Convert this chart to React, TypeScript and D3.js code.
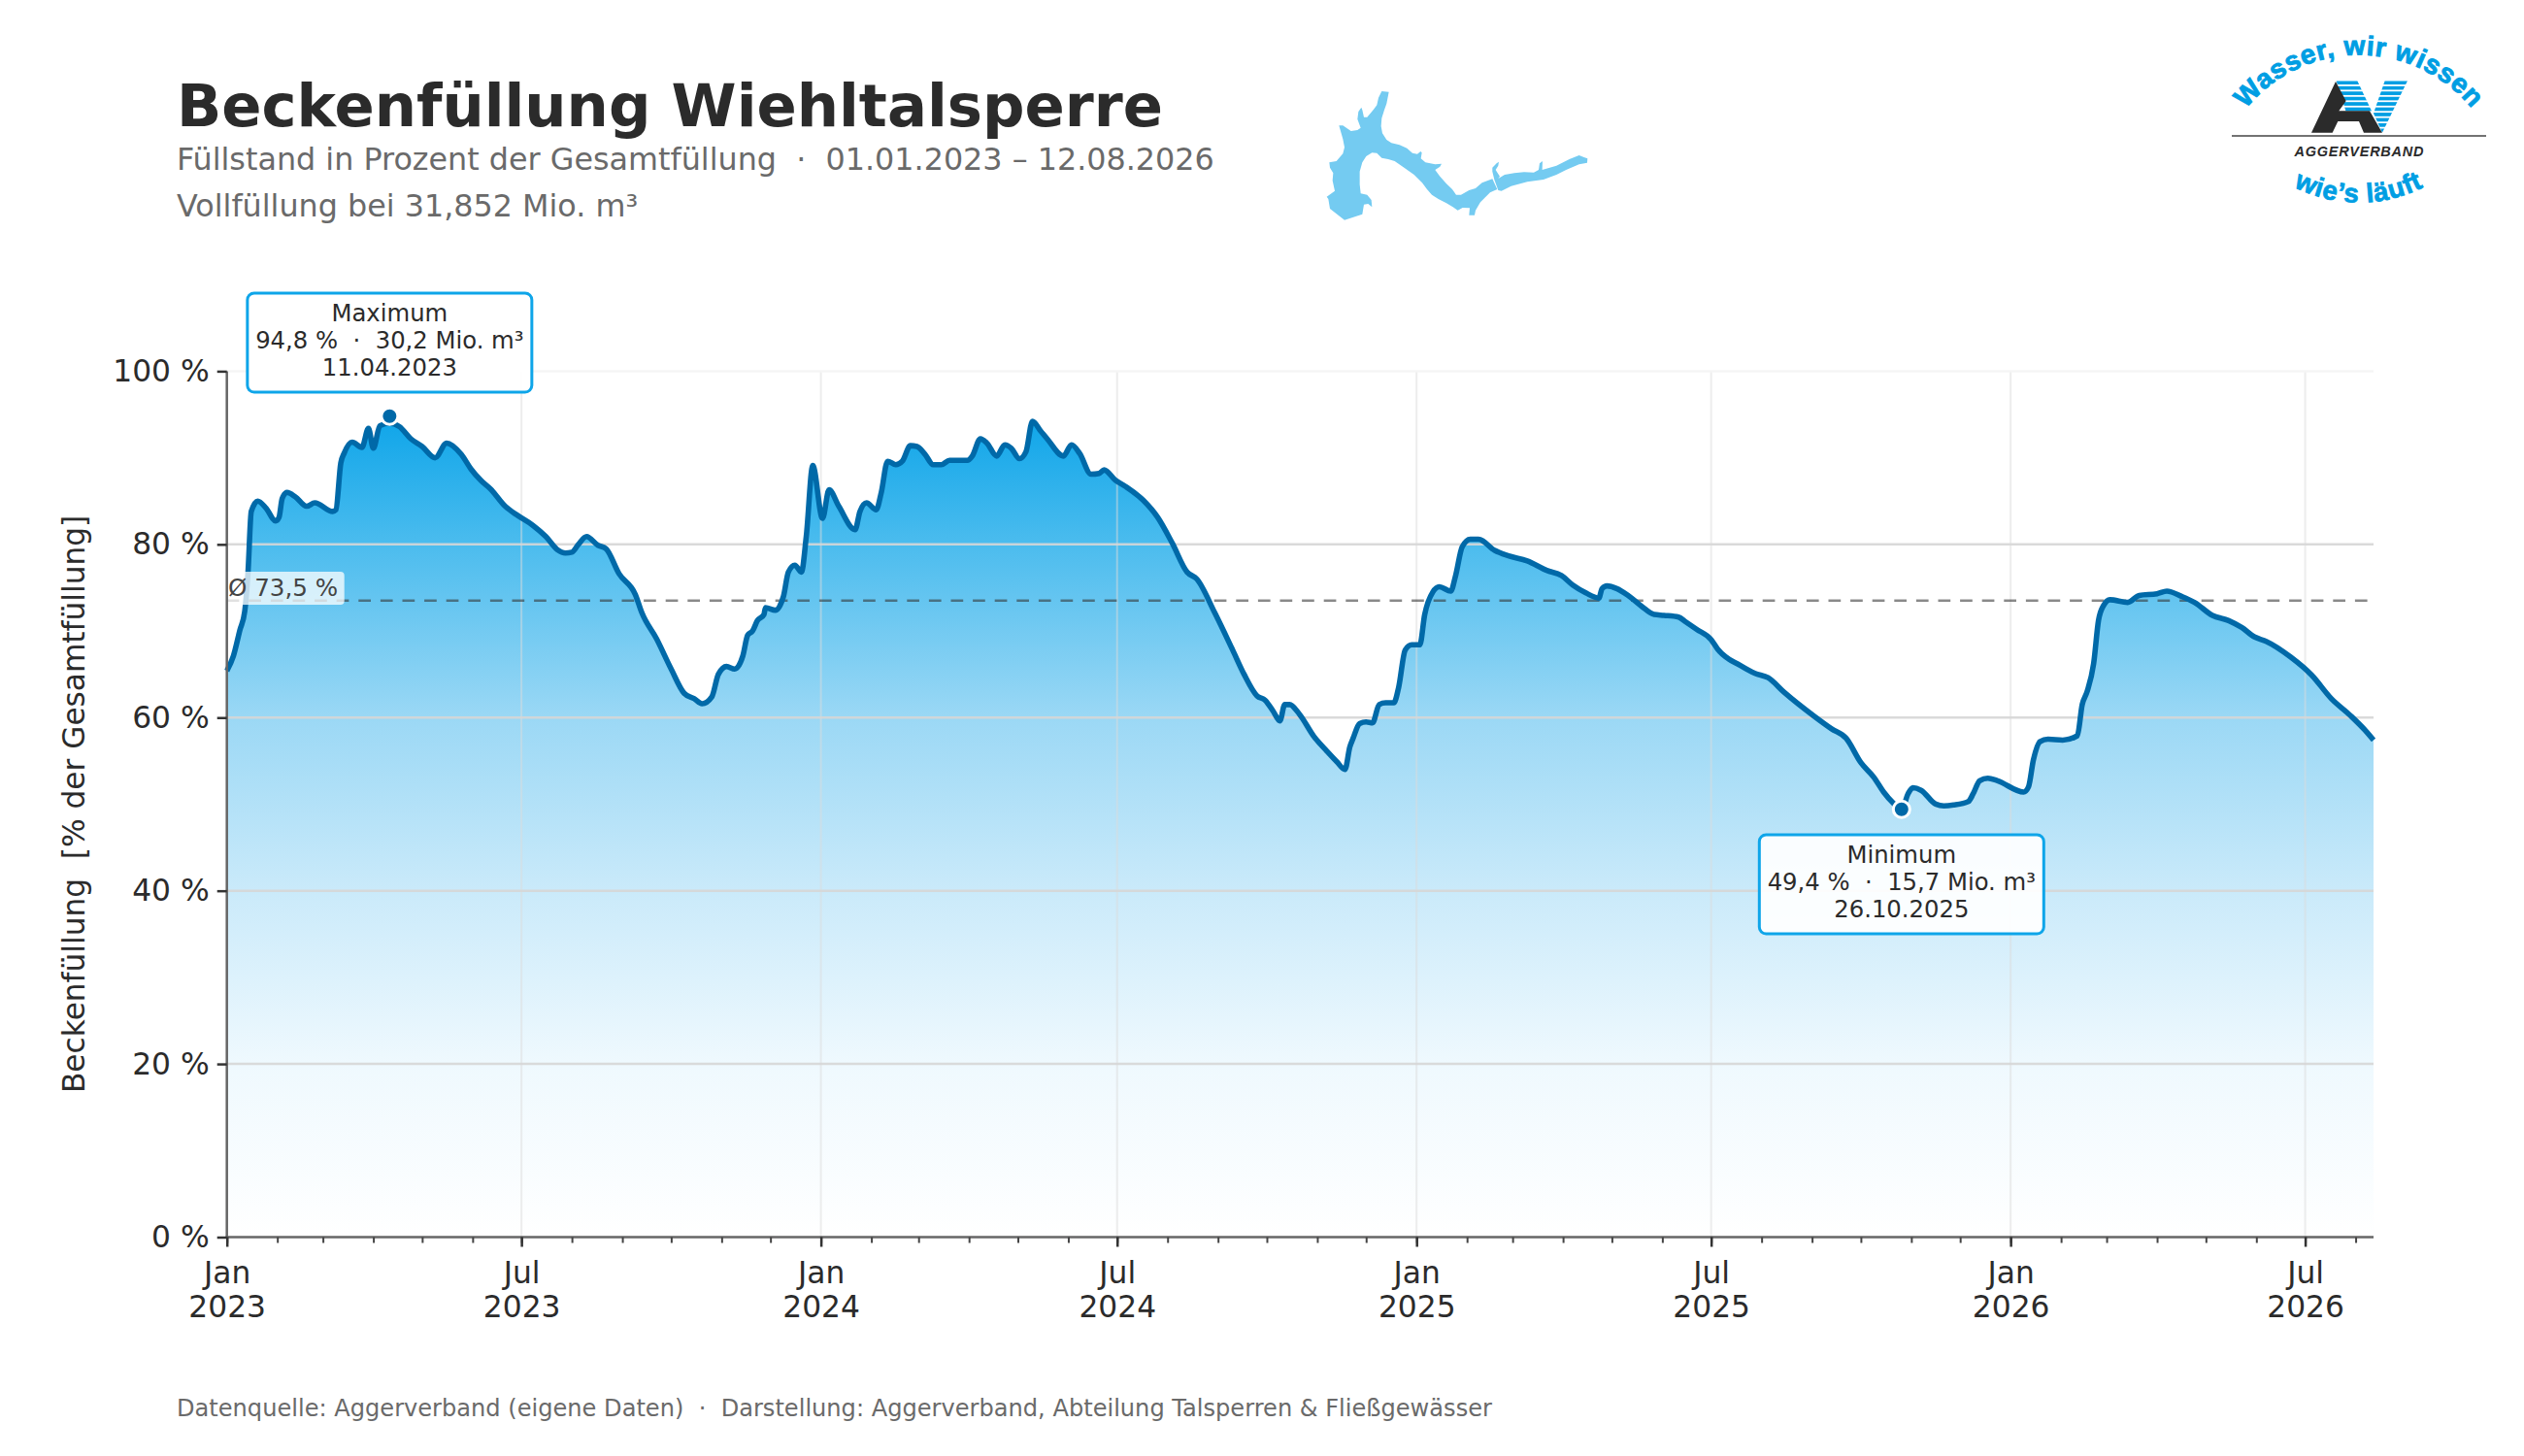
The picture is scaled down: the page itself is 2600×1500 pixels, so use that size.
import * as d3 from 'd3'
import { useEffect, useRef } from 'react'

const WIDTH = 2600
const HEIGHT = 1500
const FONT = '"DejaVu Sans", sans-serif'
const LOGO_FONT = '"Liberation Sans", Arial, sans-serif'

const PLOT_LEFT = 233.7
const PLOT_RIGHT = 2445
const PLOT_TOP = 382.4
const PLOT_BOTTOM = 1274.5

const BLUE = '#0ea5e9'
const LINE_BLUE = '#0069a8'
const LOGO_BLUE = '#009ee3'
const DARK = '#2b2b2b'

const title = 'Beckenfüllung Wiehltalsperre'
const subtitleLines = [
  'Füllstand in Prozent der Gesamtfüllung  ·  01.01.2023 – 12.08.2026',
  'Vollfüllung bei 31,852 Mio. m³',
]
const footer = 'Datenquelle: Aggerverband (eigene Daten)  ·  Darstellung: Aggerverband, Abteilung Talsperren & Fließgewässer'
const yAxisTitle = 'Beckenfüllung  [% der Gesamtfüllung]'

const yTicks = [0, 20, 40, 60, 80, 100]
const axisStart = new Date(Date.UTC(2023, 0, 1))
const axisEnd = new Date(Date.UTC(2026, 7, 12))
const meanFill = 73.5

// days since 01.01.2023
const days2023 = [0, 4, 8, 11, 13, 15, 19, 24, 30, 32, 34, 37, 42, 49, 54, 65, 67, 70, 72, 77, 83, 87, 90, 94, 100, 106, 113, 120, 128, 135, 144, 150, 156, 162, 171, 179, 188, 196, 203, 208, 212, 216, 221, 228, 233, 241, 251, 255, 264, 273, 281, 287, 292, 298, 302, 307, 312, 317, 320, 323, 326, 330, 331, 337, 342, 345, 349, 353, 356]
const fill2023 = [65.4, 67.1, 70.1, 72.3, 76.8, 83.8, 85, 84.2, 82.7, 83.1, 85.3, 86, 85.5, 84.4, 84.8, 83.8, 84, 89.4, 90.5, 91.8, 91.2, 93.4, 91.1, 93.7, 94, 93.6, 92.2, 91.3, 90, 91.7, 90.4, 88.7, 87.4, 86.4, 84.4, 83.3, 82.2, 80.9, 79.4, 79, 79.1, 80, 80.9, 79.9, 79.5, 76.6, 74.2, 72.1, 69.1, 65.6, 62.8, 62.2, 61.6, 62.4, 65, 65.9, 65.6, 67.1, 69.5, 70, 71.2, 71.9, 72.7, 72.4, 74, 76.8, 77.6, 76.8, 80.9]

const days2024 = [360, 366, 370, 376, 386, 389, 393, 399, 402, 406, 411, 415, 420, 424, 429, 434, 439, 444, 455, 458, 463, 467, 473, 478, 482, 487, 491, 495, 500, 504, 514, 519, 524, 531, 536, 539, 546, 552, 563, 572, 581, 590, 596, 607, 618, 625, 633, 638, 643, 647, 650, 653, 659, 668, 676, 682, 687, 690, 692, 696, 700, 704, 708, 712, 717, 720, 724, 728]
const fill2024 = [89.1, 83, 86.3, 84.4, 81.7, 83.8, 84.8, 84, 85.9, 89.6, 89.2, 89.6, 91.4, 91.3, 90.4, 89.2, 89.2, 89.7, 89.7, 90.2, 92.2, 91.7, 90.2, 91.5, 91.1, 89.9, 90.7, 94.2, 93.1, 92.2, 90.2, 91.5, 90.5, 88.1, 88.2, 88.6, 87.4, 86.7, 85.1, 83.1, 80.1, 76.8, 76, 72.1, 67.8, 65, 62.5, 62, 60.7, 59.6, 61.5, 61.5, 60.4, 57.8, 56.1, 54.9, 54, 56.6, 57.6, 59.3, 59.5, 59.4, 61.5, 61.7, 61.7, 63.5, 67.8, 68.4]

const days2025 = [733, 736, 741, 745, 752, 755, 759, 764, 769, 779, 787, 799, 811, 820, 827, 835, 843, 845, 848, 854, 861, 869, 877, 883, 892, 896, 903, 912, 916, 930, 939, 947, 957, 975, 986, 995, 1004, 1012, 1018, 1024, 1029, 1033, 1036, 1041, 1050, 1055, 1061, 1070, 1073, 1077, 1082, 1088]
const fill2025 = [68.4, 71.9, 74.5, 75.1, 74.6, 76.4, 79.7, 80.6, 80.6, 79.3, 78.7, 78.1, 77, 76.4, 75.3, 74.4, 73.8, 74.9, 75.2, 74.9, 74.1, 72.9, 71.9, 71.8, 71.6, 71.1, 70.2, 69, 67.9, 66, 65.1, 64.6, 62.9, 60.2, 58.7, 57.6, 54.8, 53.1, 51.4, 50.1, 49.3, 51.2, 51.9, 51.6, 50, 49.8, 49.9, 50.3, 51.2, 52.7, 53, 52.7]

const days2026 = [1104, 1107, 1110, 1114, 1119, 1128, 1137, 1140, 1143, 1147, 1150, 1153, 1157, 1168, 1175, 1186, 1192, 1201, 1209, 1220, 1230, 1238, 1246, 1253, 1268, 1281, 1293, 1305, 1314, 1319]
const fill2026 = [51.4, 52, 55.1, 57.2, 57.5, 57.4, 57.9, 61.5, 63, 66.2, 71.2, 72.9, 73.6, 73.3, 74.1, 74.3, 74.6, 74, 73.3, 71.8, 71.2, 70.4, 69.3, 68.8, 67, 64.9, 62.2, 60.2, 58.5, 57.4]

const maxCallout = { label: 'Maximum', detail: '94,8 %  ·  30,2 Mio. m³', date: '11.04.2023', day: 100, value: 94.8 }
const minCallout = { label: 'Minimum', detail: '49,4 %  ·  15,7 Mio. m³', date: '26.10.2025', day: 1029, value: 49.4 }

const gradientStops: [number, string][] = [
  [94.8, '#0ea5e9'],
  [80, '#4bbcee'],
  [60, '#9bd8f5'],
  [40, '#caeafa'],
  [20, '#eff9fe'],
  [0, '#ffffff'],
]

const LAKE_WEST = 'M220,42L242,44L235,80L228,100L220,125L218,150L222,172L235,192L250,202L275,208L298,218L315,233L330,236L340,228L344,232L341,250L355,262L385,268L405,266L400,275L385,285L400,305L420,328L438,345L450,362L465,362L490,348L510,342L530,325L562,313L577,345L555,355L540,370L525,385L510,410L507,425L490,425L492,403L470,402L455,410L440,400L420,388L395,375L375,362L360,345L345,325L320,300L285,275L260,258L240,252L220,248L205,233L190,232L172,243L160,262L152,290L152,330L155,358L175,362L188,378L190,400L178,390L165,392L160,422L105,440L60,405L55,375L50,368L75,350L68,318L70,295L60,278L58,262L80,258L100,235L105,215L100,190L88,148L100,148L125,165L145,162L155,155L145,128L148,105L157,92L160,100L165,122L175,122L195,98L205,85L210,62Z'
const LAKE_EAST = 'M562,290L562,278L575,265L582,260L580,272L572,285L585,305L580,312L600,300L630,295L660,292L690,293L705,285L708,265L717,258L716,285L760,272L800,252L830,240L845,246L856,250L855,263L830,268L790,285L760,300L720,315L670,322L620,335L590,350L580,348L568,315Z'
const LOGO_A = 'M303,350L378,192L410,252L388,283L483,283L522,350L465,350L450,315L385,315L368,350Z'
const LOGO_V_LEFT = 'M380,190L445,190L490,285L410,285Z'
const LOGO_V_RIGHT = 'M530,190L600,190L522,350L495,290Z'

const dayToDate = (d: number) => d3.utcDay.offset(axisStart, d)

export default function App() {
  const svgRef = useRef<SVGSVGElement>(null)

  useEffect(() => {
    if (!svgRef.current) return
    const svg = d3.select(svgRef.current)
    svg.selectAll('*').remove()

    const days = [...days2023, ...days2024, ...days2025, ...days2026]
    const fills = [...fill2023, ...fill2024, ...fill2025, ...fill2026]
    const series = days.map((d, i) => ({ date: dayToDate(d), value: fills[i] }))

    const x = d3.scaleUtc().domain([axisStart, axisEnd]).range([PLOT_LEFT, PLOT_RIGHT])
    const y = d3.scaleLinear().domain([0, 100]).range([PLOT_BOTTOM, PLOT_TOP])

    const defs = svg.append('defs')
    const gradient = defs.append('linearGradient')
      .attr('id', 'fill-gradient')
      .attr('gradientUnits', 'userSpaceOnUse')
      .attr('x1', 0).attr('x2', 0)
      .attr('y1', y(94.8)).attr('y2', y(0))
    gradientStops.forEach(([v, color]) => {
      gradient.append('stop')
        .attr('offset', (94.8 - v) / 94.8)
        .attr('stop-color', color)
    })
    const pattern = defs.append('pattern')
      .attr('id', 'logo-stripes')
      .attr('patternUnits', 'userSpaceOnUse')
      .attr('width', 20).attr('height', 16.4)
      .attr('y', 190)
    pattern.append('rect').attr('width', 20).attr('height', 11).attr('fill', LOGO_BLUE)

    // Area under the curve
    const area = d3.area<{ date: Date; value: number }>()
      .x(d => x(d.date))
      .y0(y(0))
      .y1(d => y(d.value))
      .curve(d3.curveMonotoneX)
    svg.append('path')
      .datum(series)
      .attr('d', area)
      .attr('fill', 'url(#fill-gradient)')

    // Grid
    const majorTicks = d3.utcMonth.range(axisStart, axisEnd, 6)
    svg.append('g').selectAll('line')
      .data(majorTicks)
      .enter().append('line')
      .attr('x1', d => x(d)).attr('x2', d => x(d))
      .attr('y1', PLOT_TOP).attr('y2', PLOT_BOTTOM)
      .attr('stroke', '#dcdcdc')
      .attr('stroke-opacity', 0.5)
      .attr('stroke-width', 2)
    svg.append('g').selectAll('line')
      .data(yTicks.filter(t => t > 0))
      .enter().append('line')
      .attr('x1', PLOT_LEFT).attr('x2', PLOT_RIGHT)
      .attr('y1', d => y(d)).attr('y2', d => y(d))
      .attr('stroke', d => d === 100 ? '#f4f4f4' : '#d6d6d6')
      .attr('stroke-opacity', 0.9)
      .attr('stroke-width', 2.5)

    // Mean
    svg.append('line')
      .attr('x1', PLOT_LEFT).attr('x2', PLOT_RIGHT)
      .attr('y1', y(meanFill)).attr('y2', y(meanFill))
      .attr('stroke', '#333')
      .attr('stroke-opacity', 0.58)
      .attr('stroke-width', 2.5)
      .attr('stroke-dasharray', '12.7 9.9')

    // Curve
    const line = d3.line<{ date: Date; value: number }>()
      .x(d => x(d.date))
      .y(d => y(d.value))
      .curve(d3.curveMonotoneX)
    svg.append('path')
      .datum(series)
      .attr('d', line)
      .attr('fill', 'none')
      .attr('stroke', LINE_BLUE)
      .attr('stroke-width', 5.6)
      .attr('stroke-linejoin', 'round')

    // Mean label
    svg.append('rect')
      .attr('x', PLOT_LEFT).attr('y', 589)
      .attr('width', 121).attr('height', 34)
      .attr('rx', 4)
      .attr('fill', '#fff')
      .attr('fill-opacity', 0.75)
    svg.append('text')
      .attr('x', 235).attr('y', 614)
      .attr('font-size', 24.6)
      .attr('font-family', FONT)
      .attr('fill', '#444')
      .text('Ø 73,5 %')

    // Axes
    const spine = svg.append('g').attr('stroke', '#666').attr('stroke-width', 2.5)
    spine.append('line')
      .attr('x1', PLOT_LEFT).attr('x2', PLOT_LEFT)
      .attr('y1', PLOT_TOP).attr('y2', PLOT_BOTTOM)
    spine.append('line')
      .attr('x1', PLOT_LEFT - 1).attr('x2', PLOT_RIGHT)
      .attr('y1', PLOT_BOTTOM).attr('y2', PLOT_BOTTOM)

    const yAxis = svg.append('g')
      .attr('transform', `translate(${PLOT_LEFT},0)`)
      .call(d3.axisLeft(y).tickValues(yTicks).tickSize(10).tickPadding(8).tickFormat(d => `${d} %`))
    yAxis.select('.domain').remove()
    yAxis.selectAll('line').attr('stroke', '#333').attr('stroke-width', 2.5)
    yAxis.selectAll('text')
      .attr('font-size', 31.3)
      .attr('font-family', FONT)
      .attr('fill', DARK)

    const minorAxis = svg.append('g')
      .attr('transform', `translate(0,${PLOT_BOTTOM})`)
      .call(d3.axisBottom(x).tickValues(d3.utcMonth.range(axisStart, axisEnd)).tickSize(6).tickFormat(() => ''))
    minorAxis.select('.domain').remove()
    minorAxis.selectAll('line').attr('stroke', '#444').attr('stroke-width', 2)

    const majorAxis = svg.append('g')
      .attr('transform', `translate(0,${PLOT_BOTTOM})`)
      .call(d3.axisBottom(x).tickValues(majorTicks).tickSize(10).tickFormat(() => ''))
    majorAxis.select('.domain').remove()
    majorAxis.selectAll('line').attr('stroke', '#333').attr('stroke-width', 2.5)
    majorAxis.selectAll<SVGGElement, Date>('.tick').each(function(d) {
      const g = d3.select(this)
      g.select('text').remove()
      const labels = [d.getUTCMonth() === 0 ? 'Jan' : 'Jul', String(d.getUTCFullYear())]
      labels.forEach((t, i) => {
        g.append('text')
          .attr('y', 47 + i * 35.5)
          .attr('text-anchor', 'middle')
          .attr('font-size', 31.3)
          .attr('font-family', FONT)
          .attr('fill', DARK)
          .text(t)
      })
    })

    svg.append('text')
      .attr('transform', `translate(86.5,${(PLOT_TOP + PLOT_BOTTOM) / 2}) rotate(-90)`)
      .attr('text-anchor', 'middle')
      .attr('font-size', 31.2)
      .attr('font-family', FONT)
      .attr('fill', DARK)
      .style('white-space', 'pre')
      .text(yAxisTitle)

    // Extremes
    ;[maxCallout, minCallout].forEach((c, idx) => {
      const cx = x(dayToDate(c.day))
      svg.append('circle')
        .attr('cx', cx).attr('cy', y(c.value))
        .attr('r', 8.5)
        .attr('fill', LINE_BLUE)
        .attr('stroke', '#fff')
        .attr('stroke-width', 3)

      const top = idx === 0 ? 302 : 860
      svg.append('rect')
        .attr('x', cx - 146.5).attr('y', top)
        .attr('width', 293).attr('height', 102)
        .attr('rx', 7)
        .attr('fill', '#fff')
        .attr('fill-opacity', 0.92)
        .attr('stroke', BLUE)
        .attr('stroke-width', 3)
      ;[c.label, c.detail, c.date].forEach((t, i) => {
        svg.append('text')
          .attr('x', cx).attr('y', top + 29 + i * 28.2)
          .attr('text-anchor', 'middle')
          .attr('font-size', 24.3)
          .attr('font-family', FONT)
          .attr('fill', DARK)
          .style('white-space', 'pre')
          .text(t)
      })
    })

    // Heading
    svg.append('text')
      .attr('x', 182).attr('y', 130)
      .attr('font-size', 60.8)
      .attr('font-weight', 700)
      .attr('font-family', FONT)
      .attr('fill', DARK)
      .text(title)
    subtitleLines.forEach((t, i) => {
      svg.append('text')
        .attr('x', 182).attr('y', 175 + i * 48)
        .attr('font-size', 31.8)
        .attr('font-family', FONT)
        .attr('fill', '#6a6a6a')
        .style('white-space', 'pre')
        .text(t)
    })
    svg.append('text')
      .attr('x', 182).attr('y', 1459)
      .attr('font-size', 24.1)
      .attr('font-family', FONT)
      .attr('fill', '#6a6a6a')
      .style('white-space', 'pre')
      .text(footer)

    // Lake outline
    const lake = svg.append('g')
      .attr('transform', 'translate(1350,80) scale(0.3333)')
      .attr('fill', '#74cbf1')
    lake.append('path').attr('d', LAKE_WEST)
    lake.append('path').attr('d', LAKE_EAST)

    // Logo
    const logo = svg.append('g').attr('transform', 'translate(2280,20)')
    defs.append('path').attr('id', 'logo-arc-top').attr('d', 'M0,186.7 A150,150 0 0 1 300,186.7')
    defs.append('path').attr('id', 'logo-arc-bottom').attr('d', 'M3,41.7 A147,147 0 0 0 297,41.7')
    logo.append('text')
      .attr('font-family', LOGO_FONT)
      .attr('font-weight', 700)
      .attr('font-size', 28)
      .attr('fill', LOGO_BLUE)
      .attr('stroke', LOGO_BLUE)
      .attr('stroke-width', 0.9)
      .attr('letter-spacing', 0.7)
      .append('textPath')
      .attr('href', '#logo-arc-top')
      .attr('startOffset', '50%')
      .attr('text-anchor', 'middle')
      .text('Wasser, wir wissen')
    logo.append('text')
      .attr('font-family', LOGO_FONT)
      .attr('font-weight', 700)
      .attr('font-size', 27.5)
      .attr('fill', LOGO_BLUE)
      .attr('stroke', LOGO_BLUE)
      .attr('stroke-width', 0.8)
      .attr('letter-spacing', 0.7)
      .append('textPath')
      .attr('href', '#logo-arc-bottom')
      .attr('startOffset', '50%')
      .attr('text-anchor', 'middle')
      .text('wie’s läuft')
    const mark = logo.append('g').attr('transform', 'scale(0.3333)')
    mark.append('path').attr('d', LOGO_V_LEFT).attr('fill', 'url(#logo-stripes)')
    mark.append('path').attr('d', LOGO_V_RIGHT).attr('fill', 'url(#logo-stripes)')
    mark.append('path').attr('d', LOGO_A).attr('fill', DARK)
    logo.append('line')
      .attr('x1', 19).attr('x2', 281)
      .attr('y1', 120).attr('y2', 120)
      .attr('stroke', '#444')
      .attr('stroke-width', 1.6)
    logo.append('text')
      .attr('x', 150).attr('y', 141)
      .attr('text-anchor', 'middle')
      .attr('font-family', LOGO_FONT)
      .attr('font-weight', 700)
      .attr('font-style', 'italic')
      .attr('font-size', 14.5)
      .attr('textLength', 133)
      .attr('fill', DARK)
      .text('AGGERVERBAND')
  }, [])

  return (
    <svg
      ref={svgRef}
      width={WIDTH}
      height={HEIGHT}
      style={{ position: 'absolute', left: 0, top: 0, background: '#fff' }}
    />
  )
}
